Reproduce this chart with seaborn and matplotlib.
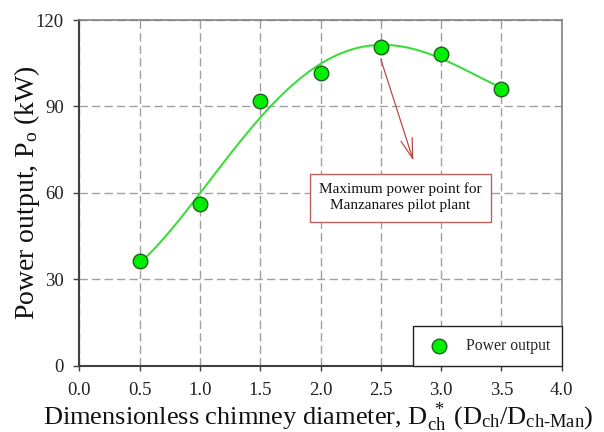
import matplotlib
matplotlib.use("Agg")
import matplotlib.pyplot as plt
import seaborn as sns
import pandas as pd

# data
diameter = [0.5, 1.0, 1.5, 2.0, 2.5, 3.0, 3.5]
power = [36.5, 56.2, 91.9, 101.5, 110.5, 108.3, 96.0]
x_ticks = [0.0, 0.5, 1.0, 1.5, 2.0, 2.5, 3.0, 3.5, 4.0]
y_ticks = [0, 30, 60, 90, 120]

df = pd.DataFrame({"d": diameter, "p": power})

sns.set_theme(style="ticks")
plt.rcParams["font.family"] = ["Liberation Serif", "DejaVu Serif"]
plt.rcParams["mathtext.fontset"] = "custom"
plt.rcParams["mathtext.rm"] = "Liberation Serif"
plt.rcParams["mathtext.it"] = "Liberation Serif:italic"
plt.rcParams["mathtext.bf"] = "Liberation Serif:bold"

fig = plt.figure(figsize=(6.04, 4.32), dpi=100)
ax = fig.add_axes([0.1313, 0.1528, 0.930 - 0.1313, 0.9537 - 0.1528])

sns.regplot(data=df, x="d", y="p", order=4, ci=None, scatter=False, truncate=True,
            line_kws=dict(color="#3ddc3d", lw=1.5, zorder=3), ax=ax)
sns.scatterplot(data=df, x="d", y="p", s=110, color="#00ee00", edgecolor="#1f5f1f",
                linewidth=1.0, zorder=4, label="Power output", ax=ax)

ax.set_xlim(0, 4)
ax.set_ylim(0, 120)
ax.set_xticks(x_ticks)
ax.set_yticks(y_ticks)
ax.set_xticklabels([f"{v:.1f}" for v in x_ticks])
ax.set_yticklabels([str(v) for v in y_ticks])
ax.tick_params(axis="both", labelsize=13.5, width=1, color="#404040",
               labelcolor="#222222", direction="out")
ax.tick_params(axis="x", length=3.5, pad=8)
ax.tick_params(axis="y", length=4.5, pad=6.5)

ax.grid(True, linestyle=(0, (6, 3)), color="#a0a0a0", lw=1.0)
ax.set_axisbelow(True)

for side in ["left", "bottom"]:
    ax.spines[side].set_color("#404040")
    ax.spines[side].set_linewidth(1.5)
for side in ["top", "right"]:
    ax.spines[side].set_visible(True)
    ax.spines[side].set_color("#808080")
    ax.spines[side].set_linewidth(1.2)

ax.set_xlabel(r"Dimensionless chimney diameter, D$_{\mathrm{ch}}^{\ *}$ (D$_{\mathrm{ch}}$/D$_{\mathrm{ch\text{-}Man}}$)",
              fontsize=19, color="#111111")
ax.xaxis.set_label_coords(0.495, -0.100)
ax.set_ylabel(r"Power output, P$_{\mathrm{o}}$ (kW)", fontsize=20, color="#111111")
ax.yaxis.set_label_coords(-0.077, 0.5)

ax.annotate("", xy=(2.77, 71.2), xytext=(2.5, 106.4),
            arrowprops=dict(arrowstyle="->,head_length=1.2,head_width=0.35",
                            color="#b84a4a", lw=0.9, shrinkA=0, shrinkB=0))
ax.text(2.66, 58.4, "Maximum power point for\nManzanares pilot plant",
        ha="center", va="center", fontsize=11, color="#111111", linespacing=1.3,
        bbox=dict(boxstyle="square,pad=0.6", fc="white", ec="#c06060", lw=1.0),
        zorder=5)

leg = ax.legend(loc="lower right", borderaxespad=0, fancybox=False, framealpha=1,
                edgecolor="#222222", fontsize=11.3, borderpad=0.75, handlelength=1.8,
                handletextpad=0.8, markerscale=1.0)
leg.get_frame().set_linewidth(1.0)

fig.savefig("out.png", dpi=100)
